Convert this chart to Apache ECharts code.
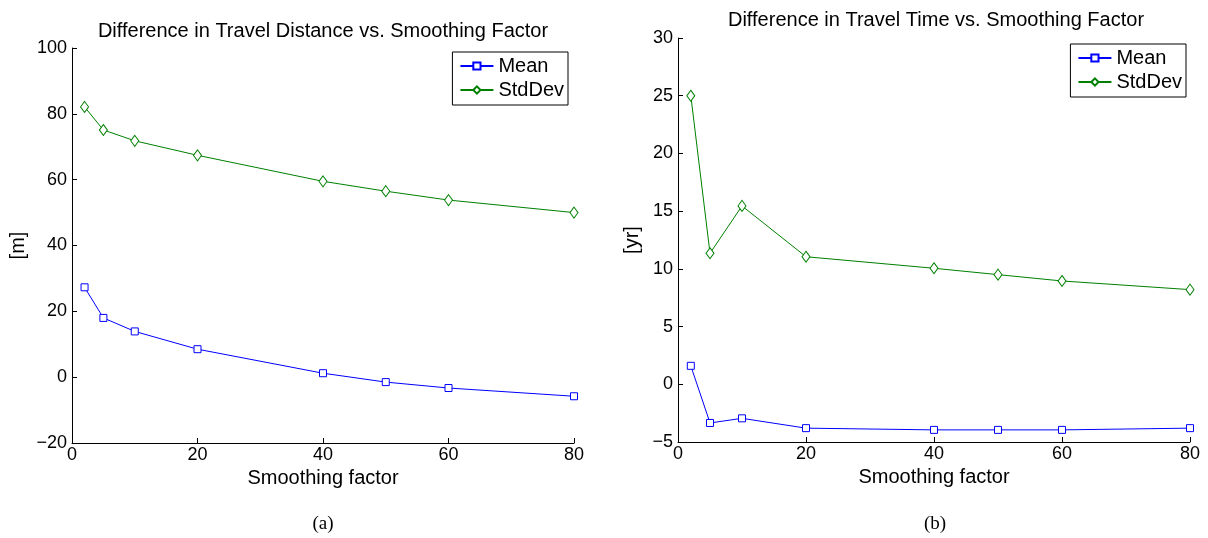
<!DOCTYPE html>
<html>
<head>
<meta charset="utf-8">
<title>Smoothing factor</title>
<script src="https://cdn.jsdelivr.net/npm/echarts@6/dist/echarts.min.js"></script>
<style>
  html, body { margin: 0; padding: 0; background: #fff; }
  #chart { width: 1208px; height: 538px; }
</style>
</head>
<body>
<div id="chart"></div>
<script>
// smoothing factors (x values, shared by both panels)
var smoothing = [2, 5, 10, 20, 40, 50, 60, 80];

// (a) travel distance [m]
var distMean = [27.3, 18.0, 13.9, 8.5, 1.2, -1.5, -3.3, -5.8];
var distStd = [82.1, 75.1, 71.8, 67.4, 59.5, 56.5, 53.8, 50.0];

// (b) travel time [yr]
var timeMean = [1.6, -3.35, -2.95, -3.8, -3.95, -3.95, -3.95, -3.8];
var timeStd = [25.0, 11.35, 15.45, 11.05, 10.05, 9.5, 8.95, 8.2];

var xTicks = [0, 20, 40, 60, 80];
var distTicks = [-20, 0, 20, 40, 60, 80, 100];
var timeTicks = [-5, 0, 5, 10, 15, 20, 25, 30];

var FONT = "Liberation Sans";
var BLUE = "#0000ff";
var GREEN = "#008000";

function pairs(ys) {
  return smoothing.map(function (x, i) { return [x, ys[i]]; });
}
function minusSign(v) {
  return String(v).replace("-", "\u2212");
}

function xAxisFor(grid) {
  return {
    type: "value",
    gridIndex: grid,
    min: xTicks[0],
    max: xTicks[xTicks.length - 1],
    interval: 20,
    name: "Smoothing factor",
    nameLocation: "middle",
    nameGap: 25,
    nameTextStyle: { color: "#000", fontSize: 20, fontFamily: FONT },
    axisLine: { show: true, onZero: false, lineStyle: { color: "#000", width: 1 } },
    axisTick: { show: true, inside: true, length: 5, lineStyle: { color: "#000" } },
    axisLabel: { color: "#000", fontSize: 18, fontFamily: FONT, margin: 3, formatter: minusSign },
    splitLine: { show: false }
  };
}

function yAxisFor(grid, ticks, name, gap) {
  return {
    type: "value",
    gridIndex: grid,
    min: ticks[0],
    max: ticks[ticks.length - 1],
    interval: ticks[1] - ticks[0],
    name: name,
    nameLocation: "middle",
    nameGap: gap,
    nameTextStyle: { color: "#000", fontSize: 20, fontFamily: FONT },
    axisLine: { show: true, onZero: false, lineStyle: { color: "#000", width: 1 } },
    axisTick: { show: true, inside: true, length: 5, lineStyle: { color: "#000" } },
    axisLabel: { color: "#000", fontSize: 18, fontFamily: FONT, margin: 5, formatter: minusSign },
    splitLine: { show: false }
  };
}

function lineSeries(name, grid, ys, color, symbol, size) {
  return {
    name: name,
    type: "line",
    xAxisIndex: grid,
    yAxisIndex: grid,
    data: pairs(ys),
    symbol: symbol,
    symbolSize: size,
    showAllSymbol: true,
    animation: false,
    lineStyle: { color: color, width: 1 },
    itemStyle: { color: "#fff", borderColor: color, borderWidth: 1 },
    emphasis: { disabled: true }
  };
}

function legendAt(right, top) {
  return {
    data: ["Mean", "StdDev"],
    orient: "vertical",
    right: right,
    top: top,
    backgroundColor: "#fff",
    borderColor: "#000",
    borderWidth: 1,
    padding: [4, 4, 5, 7],
    itemWidth: 33,
    itemHeight: 9,
    itemGap: 4,
    selectedMode: false,
    textStyle: { color: "#000", fontSize: 20, fontFamily: FONT }
  };
}

var chart = echarts.init(document.getElementById("chart"), null, { renderer: "canvas" });
var option = {
  backgroundColor: "#fff",
  animation: false,
  title: [
    {
      text: "Difference in Travel Distance vs. Smoothing Factor",
      left: 318, top: 16, textAlign: "center",
      textStyle: { color: "#000", fontSize: 20, fontWeight: "normal", fontFamily: FONT }
    },
    {
      text: "Difference in Travel Time vs. Smoothing Factor",
      left: 931, top: 5, textAlign: "center",
      textStyle: { color: "#000", fontSize: 20, fontWeight: "normal", fontFamily: FONT }
    },
    {
      text: "(a)",
      left: 318, top: 510, textAlign: "center",
      textStyle: { color: "#000", fontSize: 19, fontWeight: "normal", fontFamily: "Liberation Serif" }
    },
    {
      text: "(b)",
      left: 930, top: 510, textAlign: "center",
      textStyle: { color: "#000", fontSize: 19, fontWeight: "normal", fontFamily: "Liberation Serif" }
    }
  ],
  legend: [legendAt(640, 52), legendAt(22, 44)],
  grid: [
    { left: 72, top: 48, width: 502, height: 395 },
    { left: 678, top: 38, width: 512, height: 404 }
  ],
  xAxis: [xAxisFor(0), xAxisFor(1)],
  yAxis: [
    yAxisFor(0, distTicks, "[m]", 44),
    yAxisFor(1, timeTicks, "[yr]", 36)
  ],
  series: [
    lineSeries("Mean", 0, distMean, BLUE, "rect", 7),
    lineSeries("StdDev", 0, distStd, GREEN, "diamond", [8, 11]),
    lineSeries("Mean", 1, timeMean, BLUE, "rect", 7),
    lineSeries("StdDev", 1, timeStd, GREEN, "diamond", [8, 11])
  ]
};
chart.setOption(option);
</script>
</body>
</html>
